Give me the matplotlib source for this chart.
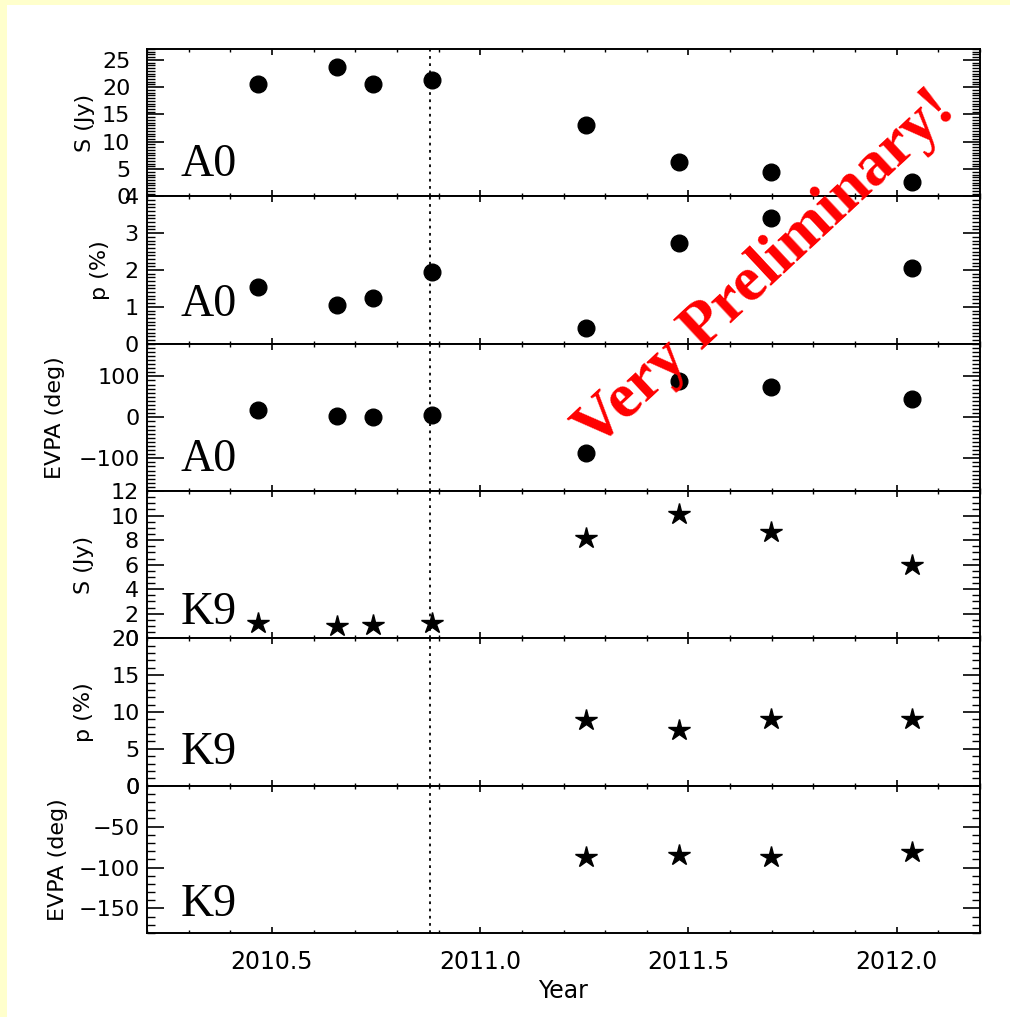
import matplotlib
matplotlib.use("Agg")
import matplotlib.pyplot as plt
from matplotlib.ticker import MultipleLocator
from matplotlib.patches import Rectangle

# epochs (decimal year)
years = [2010.466, 2010.657, 2010.743, 2010.884, 2011.255, 2011.478, 2011.698, 2012.037]
years_pol_k9 = [2011.255, 2011.478, 2011.698, 2012.037]
marker_line = 2010.88

# A0 component
s_a0 = [20.6, 23.7, 20.6, 21.4, 13.1, 6.3, 4.4, 2.6]
p_a0 = [1.53, 1.04, 1.24, 1.95, 0.43, 2.72, 3.42, 2.05]
evpa_a0 = [17, 3, 2, 5, -88, 88, 74, 44]

# K9 component
s_k9 = [1.22, 0.98, 1.06, 1.25, 8.2, 10.1, 8.65, 6.0]
p_k9 = [8.97, 7.6, 9.1, 9.1]
evpa_k9 = [-87.6, -85.0, -87.6, -81.5]

W, H = 1010, 1017
fig = plt.figure(figsize=(W / 100, H / 100), dpi=100)
fig.patch.set_facecolor("#ffffcc")
fig.patches.append(Rectangle((7 / W, 0), 1, 1 - 5 / H, transform=fig.transFigure,
                             facecolor="white", edgecolor="none", zorder=-10))

left, right = 147 / W, 980 / W
top, bottom = 1 - 49 / H, 1 - 933 / H
gs = fig.add_gridspec(6, 1, left=left, right=right, top=top, bottom=bottom, hspace=0)
axes = [fig.add_subplot(gs[i]) for i in range(6)]

narrow = ["Liberation Sans Narrow", "DejaVu Sans"]

# x, y, marker, size, ylabel, ylim, major, minor, tag, tag y, label x, narrow ticks, pad
panels = [
    (years, s_a0, "o", 12, "S (Jy)", (0, 27), 5, 0.5, "A0", 0.137, -0.062, True, 12),
    (years, p_a0, "o", 12, "p (%)", (0, 4), 1, 0.1, "A0", 0.19, -0.045, True, 6),
    (years, evpa_a0, "o", 12, "EVPA (deg)", (-180, 180), 100, 10, "A0", 0.138, -0.098, False, 5),
    (years, s_k9, "*", 16, "S (Jy)", (0, 12), 2, 0.5, "K9", 0.097, -0.064, True, 6),
    (years_pol_k9, p_k9, "*", 16, "p (%)", (0, 20), 5, 1, "K9", 0.148, -0.064, False, 5),
    (years_pol_k9, evpa_k9, "*", 16, "EVPA (deg)", (-180, 0), 50, 10, "K9", 0.115, -0.095, False, 5),
]

for ax, (x, y, mk, ms, ylab, ylim, major, minor, name, ty, lx, nar, pad) in zip(axes, panels):
    ax.plot(x, y, linestyle="none", marker=mk, markersize=ms, color="black")
    ax.axvline(marker_line, color="black", linestyle=(0, (1.5, 2.5)), linewidth=1.3)
    ax.set_xlim(2010.2, 2012.2)
    ax.set_ylim(*ylim)
    ax.yaxis.set_major_locator(MultipleLocator(major))
    ax.yaxis.set_minor_locator(MultipleLocator(minor))
    ax.xaxis.set_major_locator(MultipleLocator(0.5))
    ax.xaxis.set_minor_locator(MultipleLocator(0.1))
    ax.tick_params(axis="both", which="both", direction="in", top=True, right=True,
                   color="black")
    ax.tick_params(axis="y", which="major", length=12, width=1.2, labelsize=16, pad=pad)
    ax.tick_params(axis="y", which="minor", length=6, width=1.0)
    ax.tick_params(axis="x", which="major", length=4, width=1.2, labelsize=17, pad=12)
    ax.tick_params(axis="x", which="minor", length=2.5, width=1.0)
    for sp in ax.spines.values():
        sp.set_linewidth(1.4)
    ax.set_ylabel(ylab, fontsize=16)
    ax.yaxis.set_label_coords(lx, 0.5)
    ax.text(0.04, ty, name, transform=ax.transAxes, fontsize=33,
            family="Liberation Serif", ha="left", va="baseline")
    if ax is not axes[-1]:
        ax.tick_params(axis="x", labelbottom=False)
    if nar:
        plt.setp(ax.get_yticklabels(), family=narrow)

axes[-1].xaxis.set_major_formatter(plt.FormatStrFormatter("%.1f"))
axes[-1].set_xlabel("Year", fontsize=17, labelpad=4)

fig.text(766 / W, 1 - 270 / H, "Very Preliminary!", color="red", fontsize=46,
         fontweight="bold", family="Liberation Serif", rotation=43,
         ha="center", va="center", rotation_mode="anchor")

fig.savefig("out.png", dpi=100, facecolor=fig.get_facecolor())
